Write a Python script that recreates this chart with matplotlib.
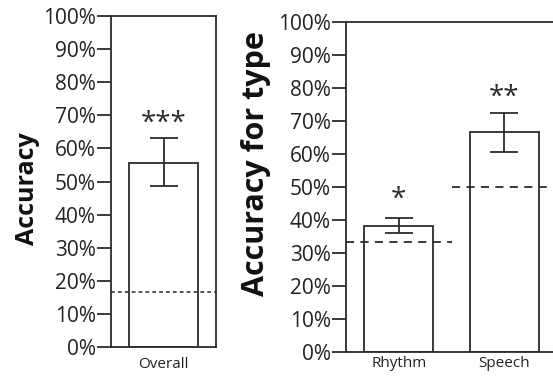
import matplotlib.pyplot as plt

plt.rcParams['font.family'] = ['Open Sans', 'DejaVu Sans']

# overall accuracy
overall_labels = ['Overall']
overall_mean = [0.556]
overall_lo = [0.486]
overall_hi = [0.631]
overall_chance = 1 / 6
overall_sig = ['***']

# accuracy per type
type_labels = ['Rhythm', 'Speech']
type_mean = [0.382, 0.666]
type_lo = [0.360, 0.607]
type_hi = [0.405, 0.723]
type_chance = [1 / 3, 0.5]
type_sig = ['*', '**']

yticks = [i / 10 for i in range(11)]
ytick_labels = ['%d%%' % (i * 10) for i in range(11)]

col = '#2b2b2b'
lw = 1.3

fig = plt.figure(figsize=(5.53, 3.76), dpi=100)
ax1 = fig.add_axes([0.2007, 0.0771, 0.190, 0.880])
ax2 = fig.add_axes([0.6257, 0.0638, 0.3816, 0.8785])


def draw(ax, labels, mean, lo, hi, sig, star_y, xpad):
    x = list(range(len(labels)))
    err = [[m - l for m, l in zip(mean, lo)], [h - m for m, h in zip(mean, hi)]]
    ax.bar(x, mean, width=0.657, color='white', edgecolor=col, linewidth=lw, zorder=2)
    ax.errorbar(x, mean, yerr=err, fmt='none', ecolor=col, elinewidth=lw,
                capsize=10, capthick=lw, zorder=3)
    for xi, s, sy in zip(x, sig, star_y):
        ax.text(xi, sy, s, ha='center', va='center', fontsize=20, color=col)
    ax.set_xlim(-0.5, len(labels) - 0.5)
    ax.set_ylim(0, 1)
    ax.set_yticks(yticks)
    ax.set_yticklabels(ytick_labels)
    ax.set_xticks(x)
    ax.set_xticklabels(labels, fontsize=11)
    ax.tick_params(axis='y', length=10, width=lw, color=col, labelsize=15, pad=1, labelcolor='#222222')
    ax.tick_params(axis='x', length=0, pad=xpad, labelcolor='#222222')
    for sp in ax.spines.values():
        sp.set_color(col)
        sp.set_linewidth(lw)


draw(ax1, overall_labels, overall_mean, overall_lo, overall_hi, overall_sig, [0.675], 7)
ax1.axhline(overall_chance, color=col, linestyle=(0, (2.5, 2)), linewidth=1.1, zorder=4)

draw(ax2, type_labels, type_mean, type_lo, type_hi, type_sig, [0.46, 0.77], 3)
for i, c in enumerate(type_chance):
    ax2.plot([i - 0.5, i + 0.5], [c, c], color=col, linestyle=(0, (4.5, 3.5)),
             linewidth=1.3, zorder=4)

fig.text(0.049, 0.499, 'Accuracy', rotation=90, ha='center', va='center',
         fontsize=18, fontweight='bold', color='#111111')
fig.text(0.463, 0.564, 'Accuracy for type', rotation=90, ha='center', va='center',
         fontsize=22, fontweight='bold', color='#111111')

plt.savefig('out.png', dpi=100)
